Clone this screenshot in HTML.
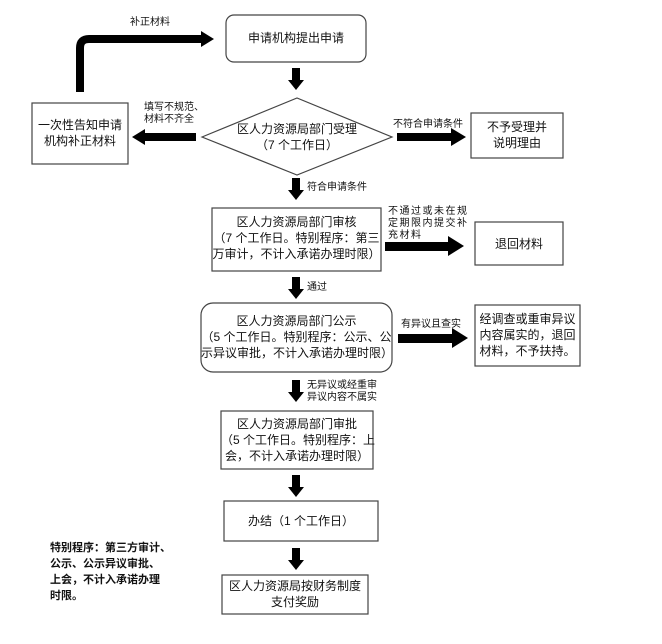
<!DOCTYPE html>
<html><head><meta charset="utf-8"><style>
body{margin:0;background:#fff;width:662px;height:644px;position:relative;overflow:hidden;font-family:"Liberation Sans","Noto Sans CJK SC",sans-serif;color:#111}
.t{position:absolute;text-align:center;font-size:12px;line-height:16px;white-space:nowrap}
.s{position:absolute;font-size:10px;line-height:12px;white-space:nowrap}
</style></head><body>
<svg width="662" height="644" style="position:absolute;left:0;top:0">
<defs>
<g id="ad"><rect x="-4" y="0" width="8" height="13" fill="#000"/><polygon points="-8,12 8,12 0,22" fill="#000"/></g>
</defs>
<g fill="#fff" stroke="#444" stroke-width="1.2">
<rect x="226" y="15" width="140" height="47" rx="8"/>
<polygon points="202,137 297,98 392,137 297,175"/>
<rect x="32" y="103" width="96" height="61"/>
<rect x="471" y="113" width="92" height="45"/>
<rect x="212" y="208" width="169" height="63"/>
<rect x="475" y="222" width="88" height="43"/>
<rect x="201" y="303" width="191" height="69" rx="12"/>
<rect x="475" y="305" width="105" height="61"/>
<rect x="221" y="411" width="152" height="58"/>
<rect x="224" y="501" width="154" height="40"/>
<rect x="222" y="575" width="146" height="39"/>
</g>
<use href="#ad" x="296" y="68"/>
<use href="#ad" x="296" y="178"/>
<use href="#ad" x="296" y="277"/>
<use href="#ad" x="296" y="380"/>
<use href="#ad" x="296" y="475"/>
<use href="#ad" x="296" y="548"/>
<rect x="144" y="133" width="52" height="8" fill="#000"/><polygon points="132,137 145,129 145,145" fill="#000"/>
<path d="M80 92 V48 Q80 39 89 39 H203" fill="none" stroke="#000" stroke-width="8"/>
<polygon points="214,39 201,31 201,47" fill="#000"/>
<rect x="397" y="133" width="55" height="8" fill="#000"/><polygon points="466,137 451,128 451,146" fill="#000"/>
<rect x="385" y="242" width="64" height="9" fill="#000"/><polygon points="464,246 448,236 448,256" fill="#000"/>
<rect x="398" y="334" width="55" height="9" fill="#000"/><polygon points="468,338 452,328 452,348" fill="#000"/>
</svg>
<div class="s" style="left:130px;top:17px">补正材料</div>
<div class="t" style="left:226px;top:30px;width:140px">申请机构提出申请</div>
<div class="t" style="left:222px;top:121px;width:150px">区人力资源局部门受理<br>（7 个工作日）</div>
<div class="s" style="left:144px;top:102px">填写不规范、<br>材料不齐全</div>
<div class="t" style="left:32px;top:117px;width:96px">一次性告知申请<br>机构补正材料</div>
<div class="s" style="left:393px;top:119px">不符合申请条件</div>
<div class="t" style="left:471px;top:119px;width:92px">不予受理并<br>说明理由</div>
<div class="s" style="left:307px;top:182px">符合申请条件</div>
<div class="t" style="left:212px;top:214px;width:169px">区人力资源局部门审核<br>（7 个工作日。特别程序：第三<br>万审计，不计入承诺办理时限）</div>
<div class="s" style="left:388px;top:206px;letter-spacing:1.5px">不通过或未在规<br>定期限内提交补<br>充材料</div>
<div class="t" style="left:475px;top:236px;width:88px">退回材料</div>
<div class="s" style="left:307px;top:282px">通过</div>
<div class="t" style="left:201px;top:313px;width:191px">区人力资源局部门公示<br>（5 个工作日。特别程序：公示、公<br>示异议审批，不计入承诺办理时限）</div>
<div class="s" style="left:401px;top:319px">有异议且查实</div>
<div class="t" style="left:475px;top:311px;width:105px">经调查或重审异议<br>内容属实的，退回<br>材料，不予扶持。</div>
<div class="s" style="left:307px;top:380px">无异议或经重审<br>异议内容不属实</div>
<div class="t" style="left:221px;top:416px;width:152px">区人力资源局部门审批<br>（5 个工作日。特别程序：上<br>会，不计入承诺办理时限）</div>
<div class="t" style="left:224px;top:513px;width:154px">办结（1 个工作日）</div>
<div class="t" style="left:222px;top:578px;width:146px">区人力资源局按财务制度<br>支付奖励</div>
<div class="s" style="left:50px;top:540px;font-size:11px;line-height:16px;font-weight:bold">特别程序：第三方审计、<br>公示、公示异议审批、<br>上会，不计入承诺办理<br>时限。</div>
</body></html>
